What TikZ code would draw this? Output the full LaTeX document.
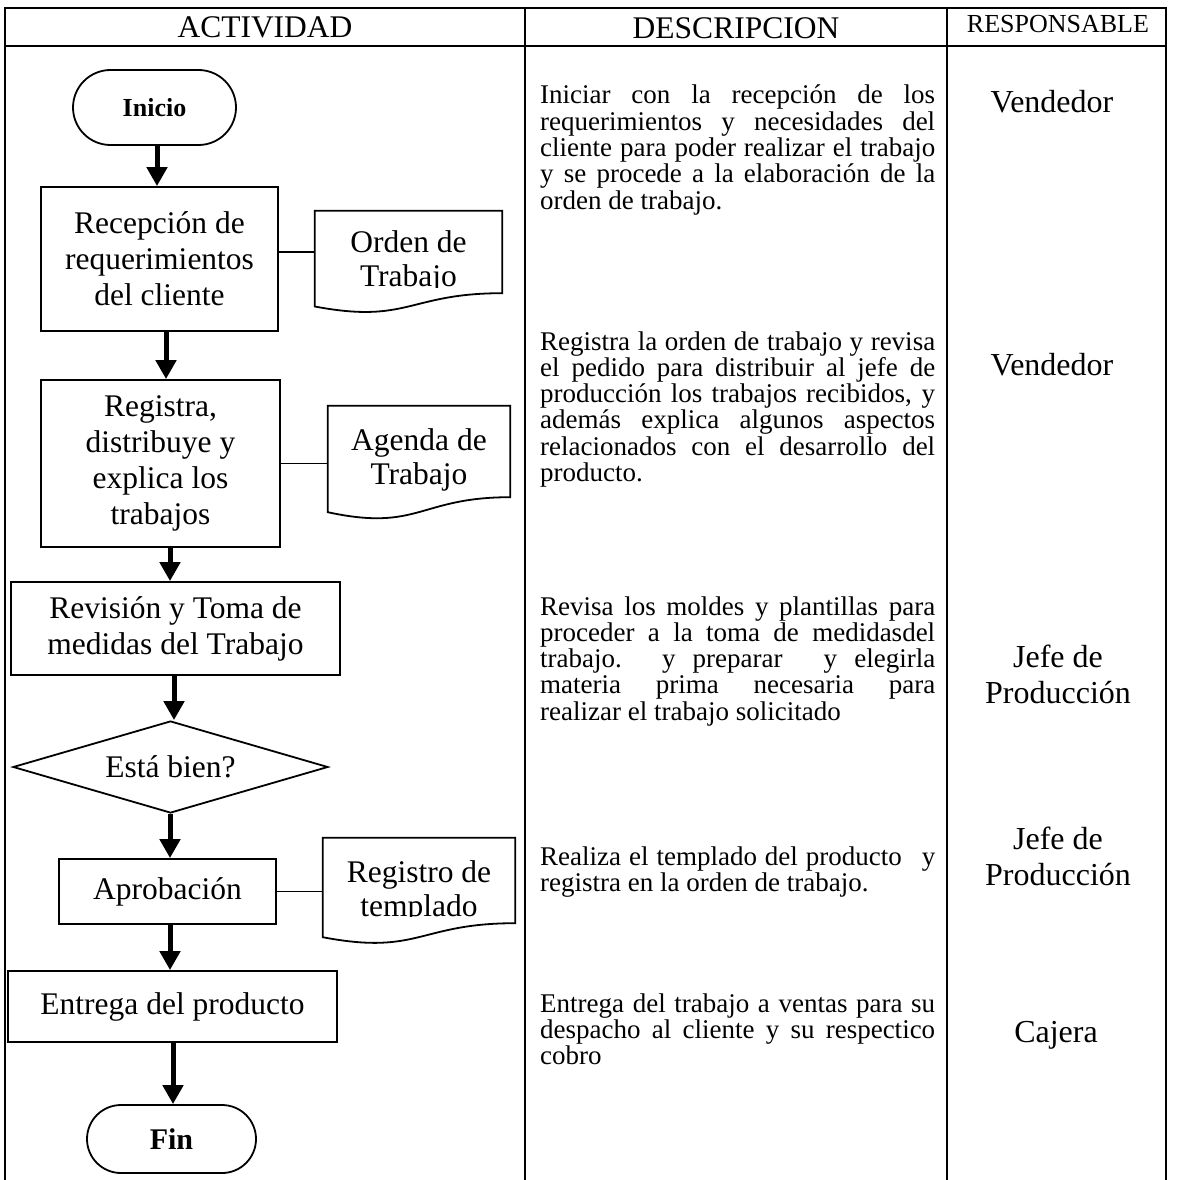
\documentclass[tikz,border=0pt]{standalone}
\usepackage{fontspec}
\setmainfont{Liberation Serif}
\usetikzlibrary{shapes.geometric,shapes.misc,arrows.meta}
\newcommand\mlines[1]{\begin{tabular}[t]{@{}c@{}}#1\end{tabular}}
\newcommand\descpar[1]{\parbox[t]{395pt}{\tolerance=10000\hyphenpenalty=10000\lineskiplimit=-40pt #1}}
\begin{document}
\begin{tikzpicture}[x=1pt,y=-1pt,
 tbl/.style={line width=2pt},
 shp/.style={draw,line width=1.8pt,inner sep=0pt},
 box/.style={shp,rectangle,align=center,font=\fontsize{31.5}{36}\selectfont},
 term/.style={shp,rounded rectangle},
 dec/.style={shp,diamond,font=\fontsize{31.5}{36}\selectfont},
 docbox/.style={inner sep=0pt,rectangle},
 docline/.style={line width=1.8pt},
 txt/.style={inner sep=0pt,anchor=base,font=\fontsize{31.5}{34}\selectfont},
 arr/.style={line width=5pt,-{Triangle[width=20pt,length=19pt]}},
 link/.style={line width=1.8pt},
 hdr/.style={inner sep=0pt,font=\fontsize{31.5}{36}\selectfont},
 desc/.style={inner sep=0pt,anchor=base west,font=\fontsize{27}{26.3}\selectfont},
 resp/.style={inner sep=0pt,anchor=base,font=\fontsize{32}{36}\selectfont}
]
\useasboundingbox (0,0) rectangle (1177,1180);
% table
\draw[tbl] (5,1182) -- (5,8) -- (1166,8) -- (1166,1182);
\draw[tbl] (5,46) -- (1166,46);
\draw[tbl] (525,8) -- (525,1182);
\draw[tbl] (947,8) -- (947,1182);
% headers
\node[hdr] (h1) at (265,27) {ACTIVIDAD};
\node[hdr] (h2) at (736,28) {DESCRIPCION};
\node[hdr,font=\fontsize{26}{30}\selectfont] (h3) at (1058,24) {RESPONSABLE};
% flowchart
\node[term,minimum width=163pt,minimum height=75pt,font=\fontsize{26}{30}\selectfont\bfseries] (ini) at (154.5,107.5) {Inicio};
\node[box,minimum width=237pt,minimum height=144pt] (b1) at (159.5,259) {Recepción de\\requerimientos\\del cliente};
\node[box,minimum width=239pt,minimum height=167pt] (b2) at (160.5,463.5) {Registra,\\distribuye y\\explica los\\trabajos};
\node[box,minimum width=329pt,minimum height=93pt] (b3) at (175.5,628.5) {Revisión y Toma de\\medidas del Trabajo};
\node[dec,minimum width=315pt,minimum height=92pt,aspect=3.4] (dia) at (170.5,767) {Está bien?};
\node[box,minimum width=217pt,minimum height=65pt] (b4) at (167.5,891.5) {Aprobación};
\node[box,minimum width=329pt,minimum height=71pt] (b5) at (172.5,1006.5) {Entrega del producto};
\node[term,minimum width=169pt,minimum height=68pt,font=\fontsize{30}{34}\selectfont\bfseries] (fin) at (171.5,1139) {Fin};
% documents
\node[docbox,minimum width=187pt,minimum height=82pt] (d1) at (408.5,252) {};
\node[docbox,minimum width=182pt,minimum height=91pt] (d2) at (419,451.5) {};
\node[docbox,minimum width=192pt,minimum height=85pt] (d3) at (419,880.5) {};
\draw[docline] (d1.north west) -- (d1.north east) -- (d1.south east) .. controls (d1.south) and ([yshift=-31pt]d1.south) .. ([yshift=-13.3pt]d1.south west) -- cycle;
\draw[docline] (d2.north west) -- (d2.north east) -- (d2.south east) .. controls (d2.south) and ([yshift=-34.7pt]d2.south) .. ([yshift=-15pt]d2.south west) -- cycle;
\draw[docline] (d3.north west) -- (d3.north east) -- (d3.south east) .. controls (d3.south) and ([yshift=-32.4pt]d3.south) .. ([yshift=-14pt]d3.south west) -- cycle;
\begin{scope}
\clip (310,200) rectangle (510,287);
\node[txt] (t1) at (408.5,252) {\mlines{Orden de\\Trabajo}};
\end{scope}
\node[txt] (t2) at (419,450) {\mlines{Agenda de\\Trabajo}};
\begin{scope}
\clip (310,830) rectangle (520,916);
\node[txt] (t3) at (419,882) {\mlines{Registro de\\templado}};
\end{scope}
% connectors
\draw[arr] ([xshift=2.5pt]ini.south) -- ([xshift=-2.5pt]b1.north);
\draw[arr] ([xshift=6.5pt]b1.south) -- ([xshift=5.5pt]b2.north);
\draw[arr] ([xshift=9.5pt]b2.south) -- ([xshift=-5.5pt]b3.north);
\draw[arr] ([xshift=-1.5pt]b3.south) -- ([xshift=3.5pt]dia.north);
\draw[arr] ([xshift=-0.5pt]dia.south) -- ([xshift=2.5pt]b4.north);
\draw[arr] ([xshift=2.5pt]b4.south) -- ([xshift=-2.5pt]b5.north);
\draw[arr] ([xshift=0.5pt]b5.south) -- ([xshift=1.5pt]fin.north);
\draw[link] (d1.west -| b1.east) -- (d1.west);
\draw[link] (b2.east) -- (b2.east -| d2.west);
\draw[link] (b4.east) -- (b4.east -| d3.west);
% descriptions
\node[desc] (p1) at (540,104) {\descpar{Iniciar con la recepción de los\linebreak requerimientos y necesidades del\linebreak cliente para poder realizar el trabajo\linebreak y se procede a la elaboración de la\linebreak orden de trabajo.}};
\node[desc] (p2) at (540,350) {\descpar{Registra la orden de trabajo y revisa\linebreak el pedido para distribuir al jefe de\linebreak producción los trabajos recibidos, y\linebreak además explica algunos aspectos\linebreak relacionados con el desarrollo del\linebreak producto.}};
\node[desc] (p3) at (540,615) {\descpar{Revisa los moldes y plantillas para\linebreak proceder a la toma de medidasdel\linebreak trabajo. y preparar\hspace{24pt} y elegirla\linebreak materia prima necesaria para\linebreak realizar el trabajo solicitado}};
\node[desc] (p4) at (540,865) {\descpar{Realiza el templado del producto\hspace{12pt} y\linebreak registra en la orden de trabajo.}};
\node[desc] (p5) at (540,1012) {\descpar{Entrega del trabajo a ventas para su\linebreak despacho al cliente y su respectico\linebreak cobro}};
% responsables
\node[resp] (r1) at (1052,113) {Vendedor};
\node[resp] (r2) at (1052,375) {Vendedor};
\node[resp] (r3) at (1058,667) {\mlines{Jefe de\\Producción}};
\node[resp] (r4) at (1058,849) {\mlines{Jefe de\\Producción}};
\node[resp] (r5) at (1056,1042) {Cajera};
\end{tikzpicture}
\end{document}
